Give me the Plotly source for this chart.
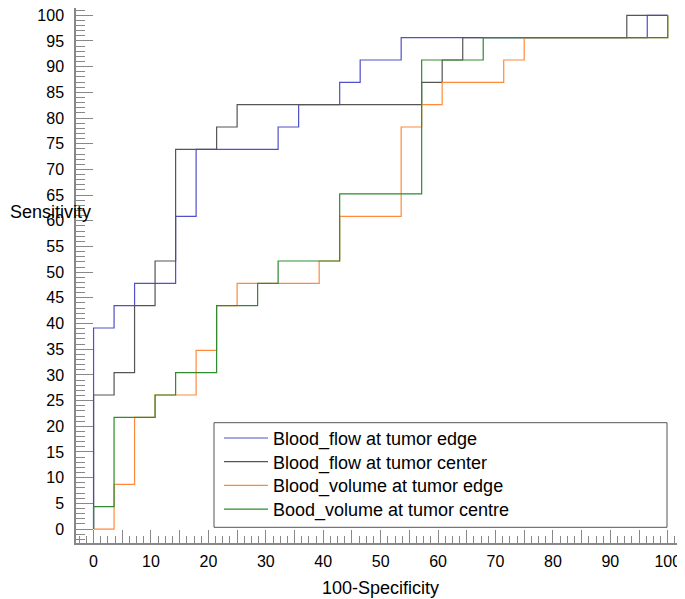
import plotly.graph_objects as go

# ROC operating points (100-Specificity, Sensitivity)
series_names = [
    "Blood_flow at tumor edge",
    "Blood_flow at tumor center",
    "Blood_volume at tumor edge",
    "Bood_volume at tumor centre",
]

flow_edge_x = [0, 0, 3.57, 7.14, 14.29, 17.86, 32.14, 35.71, 42.86, 46.43, 53.57, 96.43, 100]
flow_edge_y = [0, 39.13, 43.48, 47.83, 60.87, 73.91, 78.26, 82.61, 86.96, 91.30, 95.65, 100, 100]

flow_center_x = [0, 0, 3.57, 7.14, 10.71, 14.29, 21.43, 25.0, 57.14, 60.71, 64.29, 92.86, 100]
flow_center_y = [0, 26.09, 30.43, 43.48, 52.17, 73.91, 78.26, 82.61, 86.96, 91.30, 95.65, 100, 100]

volume_edge_x = [0, 3.57, 7.14, 10.71, 17.86, 21.43, 25.0, 39.29, 42.86, 53.57, 57.14, 60.71, 71.43, 75.0, 100]
volume_edge_y = [0, 8.70, 21.74, 26.09, 34.78, 43.48, 47.83, 52.17, 60.87, 78.26, 82.61, 86.96, 91.30, 95.65, 100]

volume_center_x = [0, 0, 3.57, 10.71, 14.29, 21.43, 28.57, 32.14, 42.86, 57.14, 67.86, 100]
volume_center_y = [0, 4.35, 21.74, 26.09, 30.43, 43.48, 47.83, 52.17, 65.22, 91.30, 95.65, 100]

x_tick_values = list(range(0, 101, 5))
x_tick_labels = [str(v) if v % 10 == 0 else "" for v in x_tick_values]

colors = ["#5050c8", "#555555", "#ff8a3d", "#2e8b2e"]

FONT = "Liberation Sans, Arial, Helvetica, sans-serif"

# the page body adds an 8px offset; size the figure to fill the rest of the window
OFF = 8
W, H = 685 - OFF, 599 - OFF
ML, MR, MT, MB = 76 - OFF, 0, 0, 56
PW, PH = W - ML - MR, H - MT - MB


def px_x(p):
    # p: pixel position in the window
    return (p - OFF - ML) / PW


def px_y(p):
    return (H - MB - (p - OFF)) / PH


legend_ids = ["legend", "legend2", "legend3", "legend4"]
row_centers = [438.3, 462.0, 485.7, 509.4]

fig = go.Figure()
for name, xs, ys, c, lg in zip(
    series_names,
    [flow_edge_x, flow_center_x, volume_edge_x, volume_center_x],
    [flow_edge_y, flow_center_y, volume_edge_y, volume_center_y],
    colors, legend_ids,
):
    fig.add_trace(go.Scatter(
        x=xs, y=ys, mode="lines", name=name, legend=lg,
        line=dict(color=c, width=1.2, shape="hv"),
    ))

axis_col = "#888888"

legend_layout = {}
for lg, yc in zip(legend_ids, row_centers):
    legend_layout[lg] = dict(
        x=px_x(219), y=px_y(yc), xanchor="left", yanchor="middle",
        bgcolor="rgba(0,0,0,0)", borderwidth=0,
        font=dict(family=FONT, size=18, color="black"),
        itemwidth=44,
    )

fig.update_layout(
    width=W, height=H,
    margin=dict(l=ML, r=MR, t=MT, b=MB, autoexpand=False),
    paper_bgcolor="white", plot_bgcolor="white",
    font=dict(family=FONT, color="black", size=16),
    showlegend=True,
    xaxis=dict(
        range=[-3.06, 103.0], showgrid=False, zeroline=False, automargin=False,
        showline=True, linecolor=axis_col, linewidth=1.5,
        tickmode="array", tickvals=x_tick_values, ticktext=x_tick_labels,
        ticks="inside", ticklen=13, tickcolor=axis_col, tickwidth=1,
        minor=dict(dtick=1.25, tick0=0, ticks="inside", ticklen=7, tickcolor=axis_col, tickwidth=1, showgrid=False),
        tickfont=dict(size=16),
        ticklabelstandoff=3,
        ticklabeloverflow="allow",
        title=dict(text="100-Specificity", font=dict(size=18), standoff=12),
    ),
    yaxis=dict(
        range=[-2.72, 101.42], showgrid=False, zeroline=False, automargin=False,
        showline=True, linecolor=axis_col, linewidth=1.5,
        tickmode="linear", tick0=0, dtick=5,
        ticks="inside", ticklen=17, tickcolor=axis_col, tickwidth=1,
        minor=dict(dtick=1, tick0=0, ticks="inside", ticklen=9, tickcolor=axis_col, tickwidth=1, showgrid=False),
        tickfont=dict(size=16),
        ticklabelstandoff=7,
        ticklabeloverflow="allow",
    ),
    shapes=[dict(
        type="rect", xref="paper", yref="paper",
        x0=px_x(214), x1=px_x(667), y0=px_y(527.3), y1=px_y(422.7),
        line=dict(color="#555555", width=1), fillcolor="rgba(0,0,0,0)",
        layer="above",
    )],
    annotations=[dict(
        text="Sensitivity", xref="paper", yref="paper",
        x=px_x(OFF), y=px_y(212), xanchor="left", yanchor="middle",
        showarrow=False, font=dict(family=FONT, size=18, color="black"),
    )],
    **legend_layout,
)

fig.write_html("out.html")
